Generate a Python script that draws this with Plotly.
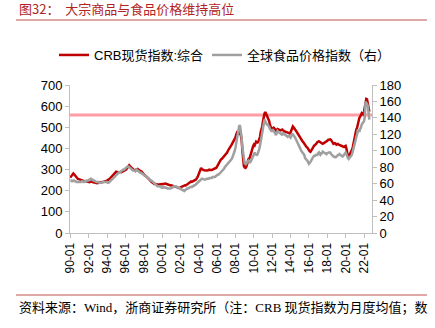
import pandas as pd
import plotly.graph_objects as go

# CRB spot index (composite), monthly averages, Jan 1990 - Aug 2022
crb = [
    262, 268, 275, 280, 282, 278, 272, 268, 265, 260, 256, 254,  # 1990
    252, 250, 251, 250, 248, 247, 245, 244, 246, 245, 242, 240,  # 1991
    239, 240, 242, 244, 243, 241, 240, 238, 236, 237, 236, 235,  # 1992
    236, 238, 239, 240, 241, 239, 240, 241, 240, 242, 244, 246,  # 1993
    248, 250, 253, 255, 258, 262, 266, 270, 275, 280, 284, 288,  # 1994
    290, 289, 287, 286, 288, 290, 289, 288, 290, 292, 291, 293,  # 1995
    296, 300, 305, 312, 318, 320, 316, 312, 306, 302, 300, 298,  # 1996
    296, 297, 300, 302, 303, 300, 296, 294, 292, 291, 288, 284,  # 1997
    278, 274, 272, 270, 266, 262, 258, 252, 248, 246, 242, 238,  # 1998
    236, 234, 232, 230, 232, 231, 229, 228, 230, 231, 232, 233,  # 1999
    232, 231, 233, 232, 234, 233, 231, 230, 229, 228, 226, 225,  # 2000
    226, 225, 223, 221, 219, 218, 220, 218, 216, 213, 212, 214,  # 2001
    216, 218, 221, 220, 222, 224, 226, 225, 228, 230, 232, 234,  # 2002
    238, 242, 244, 242, 245, 247, 249, 250, 252, 256, 262, 270,  # 2003
    282, 295, 306, 308, 302, 298, 299, 297, 296, 298, 297, 296,  # 2004
    297, 299, 300, 298, 297, 298, 300, 302, 304, 306, 307, 309,  # 2005
    315, 322, 328, 336, 344, 348, 350, 354, 356, 360, 364, 368,  # 2006
    372, 380, 388, 396, 404, 408, 412, 418, 424, 430, 434, 440,  # 2007
    452, 466, 475, 472, 470, 474, 476, 462, 440, 390, 340, 315,  # 2008
    310, 308, 312, 320, 335, 350, 352, 360, 370, 385, 398, 410,  # 2009
    418, 414, 422, 432, 430, 428, 432, 440, 455, 478, 490, 505,  # 2010
    530, 556, 565, 572, 565, 556, 548, 540, 530, 512, 500, 494,  # 2011
    492, 496, 498, 494, 490, 484, 488, 492, 490, 488, 486, 485,  # 2012
    487, 489, 486, 482, 480, 479, 478, 477, 476, 474, 472, 471,  # 2013
    476, 488, 500, 504, 500, 496, 490, 484, 478, 472, 466, 458,  # 2014
    450, 445, 440, 436, 432, 428, 422, 414, 408, 406, 404, 400,  # 2015
    392, 386, 384, 390, 398, 406, 410, 414, 416, 418, 424, 430,  # 2016
    432, 434, 431, 428, 426, 424, 422, 424, 426, 428, 430, 432,  # 2017
    436, 440, 442, 444, 443, 440, 432, 426, 422, 424, 425, 422,  # 2018
    418, 420, 421, 418, 416, 414, 413, 410, 408, 406, 407, 410,  # 2019
    412, 400, 376, 362, 360, 368, 378, 385, 392, 400, 418, 440,  # 2020
    460, 478, 490, 498, 515, 535, 545, 550, 556, 566, 562, 560,  # 2021
    575, 600, 628, 634, 632, 612, 585, 574,                      # 2022
]

# FAO food price index, monthly, Jan 1990 - Aug 2022 (right axis)
fao = [
    64, 64, 63, 63, 64, 64, 63, 63, 62, 62, 62, 62,  # 1990
    62, 62, 62, 63, 63, 62, 62, 63, 63, 63, 64, 64,  # 1991
    64, 65, 65, 66, 65, 65, 64, 64, 63, 63, 62, 62,  # 1992
    62, 62, 61, 61, 61, 61, 62, 62, 62, 62, 62, 62,  # 1993
    62, 61, 61, 62, 63, 64, 65, 66, 67, 68, 69, 70,  # 1994
    71, 71, 72, 73, 74, 74, 75, 75, 76, 77, 77, 78,  # 1995
    79, 80, 80, 81, 81, 80, 80, 79, 78, 77, 76, 76,  # 1996
    75, 75, 76, 77, 76, 75, 74, 74, 73, 73, 72, 72,  # 1997
    71, 70, 70, 69, 68, 68, 67, 66, 65, 64, 64, 63,  # 1998
    62, 61, 60, 59, 58, 58, 57, 57, 57, 57, 56, 56,  # 1999
    55, 55, 56, 56, 55, 55, 55, 54, 54, 54, 54, 54,  # 2000
    55, 55, 56, 56, 57, 57, 57, 56, 56, 55, 55, 54,  # 2001
    54, 53, 53, 52, 52, 51, 52, 53, 54, 54, 54, 55,  # 2002
    55, 56, 56, 56, 57, 57, 58, 58, 59, 60, 61, 62,  # 2003
    63, 64, 65, 66, 66, 66, 65, 65, 65, 65, 66, 66,  # 2004
    66, 66, 67, 67, 67, 67, 68, 68, 68, 68, 69, 70,  # 2005
    70, 71, 71, 72, 72, 73, 74, 75, 76, 78, 80, 81,  # 2006
    82, 83, 84, 85, 86, 87, 88, 90, 92, 94, 97, 100,  # 2007
    104, 110, 118, 124, 128, 131, 130, 124, 116, 104, 95, 88,  # 2008
    85, 84, 84, 86, 88, 88, 87, 86, 87, 89, 92, 95,  # 2009
    97, 98, 96, 95, 95, 96, 98, 102, 106, 111, 116, 122,  # 2010
    130, 136, 138, 136, 133, 132, 132, 131, 129, 127, 125, 124,  # 2011
    124, 125, 124, 123, 121, 119, 123, 124, 123, 122, 121, 120,  # 2012
    120, 121, 120, 121, 120, 119, 118, 117, 117, 118, 118, 117,  # 2013
    116, 118, 121, 120, 119, 118, 116, 114, 112, 111, 110, 108,  # 2014
    104, 102, 100, 99, 98, 97, 95, 91, 89, 89, 88, 86,  # 2015
    84, 85, 86, 88, 90, 93, 93, 94, 94, 95, 95, 95,  # 2016
    97, 98, 96, 95, 97, 97, 99, 98, 97, 97, 97, 96,  # 2017
    97, 98, 98, 98, 98, 96, 94, 94, 93, 93, 92, 92,  # 2018
    93, 95, 95, 95, 96, 95, 94, 93, 93, 94, 96, 97,  # 2019
    98, 96, 93, 91, 90, 91, 92, 94, 95, 98, 101, 104,  # 2020
    108, 113, 117, 120, 126, 124, 123, 127, 128, 132, 134, 134,  # 2021
    136, 141, 160, 158, 157, 154, 140, 138,  # 2022
]

months = pd.date_range("1990-01-01", periods=len(crb), freq="MS")

# x tick positions: January of every second year
tick_years = list(range(1990, 2023, 2))
tick_vals = [f"{y}-01-01" for y in tick_years]
tick_text = [f"{y % 100:02d}-01" for y in tick_years]

HIGH_LEVEL = 558  # reference level on the CRB axis

TITLE = "图32：  大宗商品与食品价格维持高位"
SOURCE = "资料来源：Wind，浙商证券研究所（注：CRB 现货指数为月度均值；数"
SOURCE2 = "据截至 2022 年 8 月）"

W, H = 435, 328
L, R, T, B = 70, 63, 85, 95
PW, PH = W - L - R, H - T - B


def px(x):
    return (x - L) / PW


def py(y):
    return (H - B - y) / PH


SANS = "Liberation Sans, Arial, Noto Sans CJK SC, sans-serif"
SERIF = "Liberation Serif, Times New Roman, Noto Sans CJK SC, serif"
RED = "#c00000"
AXIS = "#bfbfbf"

fig = go.Figure()
fig.add_trace(go.Scatter(
    x=months, y=crb, name="CRB现货指数:综合", mode="lines",
    line=dict(color=RED, width=2.5), legend="legend",
))
fig.add_trace(go.Scatter(
    x=months, y=fao, name="全球食品价格指数（右）", mode="lines", yaxis="y2",
    line=dict(color="#a0a0a0", width=2.5), legend="legend2",
))

fig.add_shape(type="line", xref="paper", yref="y", x0=0, x1=1,
              y0=HIGH_LEVEL, y1=HIGH_LEVEL,
              line=dict(color="#ff9da5", width=3), layer="below")

# title, rules and source note
fig.add_annotation(text=TITLE, xref="paper", yref="paper", x=px(17), y=py(9),
                   xanchor="left", yanchor="middle", showarrow=False,
                   font=dict(family="Noto Sans CJK SC", size=13, color="#b22222"))
for yy in (20, 295):
    fig.add_shape(type="line", xref="paper", yref="paper",
                  x0=px(16), x1=px(427), y0=py(yy), y1=py(yy),
                  line=dict(color="#c0504d", width=1))
fig.add_annotation(text=SOURCE, xref="paper", yref="paper", x=px(17), y=py(308),
                   xanchor="left", yanchor="middle", showarrow=False,
                   font=dict(family=SERIF, size=13, color="#000000"))
fig.add_annotation(text=SOURCE2, xref="paper", yref="paper", x=px(17), y=py(336),
                   xanchor="left", yanchor="middle", showarrow=False,
                   font=dict(family=SERIF, size=13, color="#000000"))

axis_common = dict(
    showline=True, linecolor=AXIS, linewidth=1, showgrid=False, zeroline=False,
    ticks="outside", ticklen=4, tickcolor=AXIS,
    tickfont=dict(family=SANS, size=13, color="#000000"),
)

legend_common = dict(
    orientation="h", xanchor="left", yanchor="middle",
    font=dict(family=SANS, size=13, color="#000000"),
    bgcolor="rgba(0,0,0,0)", borderwidth=0, itemwidth=30,
)

fig.update_layout(
    width=W, height=H,
    margin=dict(l=L, r=R, t=T, b=B, pad=0),
    paper_bgcolor="white", plot_bgcolor="white",
    showlegend=True,
    legend=dict(x=px(54), y=py(55), **legend_common),
    legend2=dict(x=px(207), y=py(55), **legend_common),
    xaxis=dict(
        type="date", range=["1989-12-20", "2022-11-15"],
        tickmode="array", tickvals=tick_vals, ticktext=tick_text, tickangle=-90,
        showline=True, linecolor=AXIS, linewidth=1, showgrid=False, zeroline=False,
        ticks="outside", ticklen=4, tickcolor=AXIS,
        tickfont=dict(family=SANS, size=12, color="#000000"),
    ),
    yaxis=dict(range=[0, 700], dtick=100, tick0=0, **axis_common),
    yaxis2=dict(range=[0, 180], dtick=20, tick0=0, overlaying="y", side="right",
                **axis_common),
)

fig.write_html("out.html")
